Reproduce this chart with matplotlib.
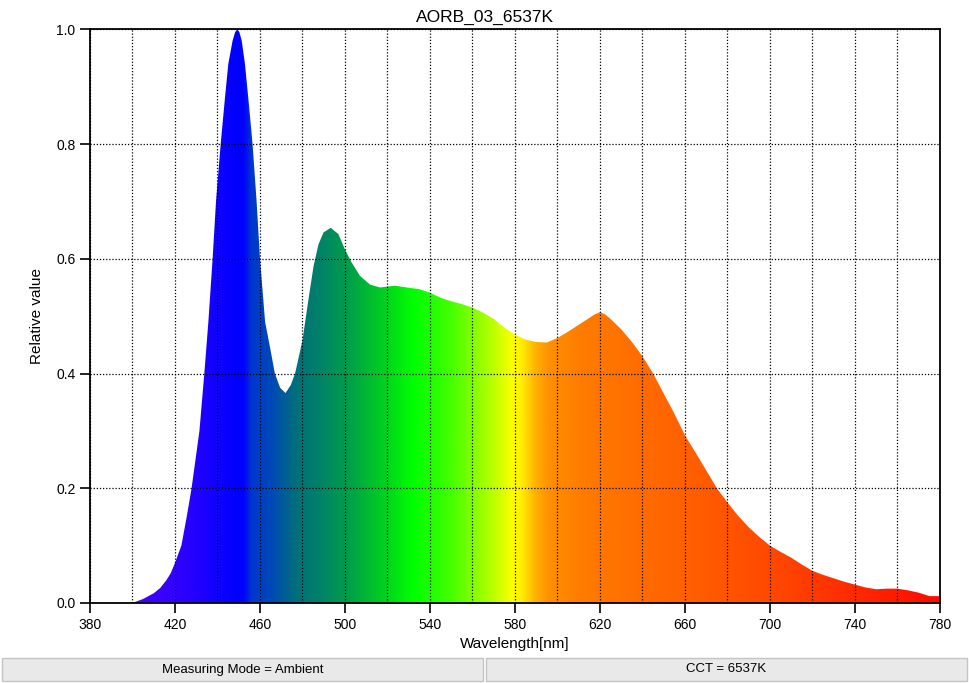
import numpy as np
import matplotlib; matplotlib.use("Agg"); import matplotlib.pyplot as plt
from matplotlib.colors import LinearSegmentedColormap
from matplotlib.patches import Rectangle

plt.rcParams["font.family"] = ["Liberation Sans", "DejaVu Sans"]

# spectrum (nm, relative value); denser where it is steep
wl = [400, 405, 410, 413, 416, 418, 420, 423, 425.5, 427.8, 431.5, 433.8, 435.7,
      437.7, 439.3, 441.5, 443.5, 445.1, 447.1, 448.3, 449.3, 450.3, 451.4,
      452.9, 454.5, 456.5, 458.4, 460, 462.4, 465, 467, 469.5, 472, 474.5, 476.5,
      480, 482.8, 485.2, 487.5, 489.9, 493.3, 496.9, 500, 503.2, 507.1, 511.8,
      516.5, 523.6, 529, 535, 540, 545, 550, 555, 560, 565, 570, 575, 580, 585,
      590, 595, 600, 605, 610, 615, 617.5, 620, 622.5, 625, 630, 635, 640, 645,
      650, 655, 660, 665, 670, 675, 680, 685, 690, 695, 700, 705, 710, 715, 720,
      725, 730, 735, 740, 745, 750, 755, 760, 765, 770, 775, 780]
rel = [0.000, 0.007, 0.017, 0.026, 0.040, 0.052, 0.070, 0.100, 0.150, 0.200,
       0.300, 0.400, 0.490, 0.600, 0.700, 0.800, 0.880, 0.940, 0.980, 0.995,
       1.000, 0.995, 0.980, 0.940, 0.880, 0.800, 0.700, 0.600, 0.490, 0.440,
       0.400, 0.375, 0.366, 0.380, 0.400, 0.458, 0.529, 0.587, 0.625, 0.646,
       0.654, 0.643, 0.616, 0.593, 0.570, 0.555, 0.550, 0.553, 0.550, 0.547,
       0.541, 0.532, 0.526, 0.521, 0.515, 0.506, 0.495, 0.480, 0.468, 0.459,
       0.455, 0.454, 0.462, 0.473, 0.485, 0.497, 0.503, 0.507, 0.503, 0.495,
       0.477, 0.455, 0.430, 0.400, 0.365, 0.330, 0.292, 0.262, 0.231, 0.200,
       0.175, 0.152, 0.132, 0.115, 0.100, 0.089, 0.079, 0.067, 0.056, 0.049,
       0.043, 0.037, 0.032, 0.027, 0.024, 0.025, 0.025, 0.022, 0.018, 0.012,
       0.012]

# fill colour by wavelength
col_wl = [380, 400, 420, 440, 449, 452, 456, 465, 477, 487, 502, 518, 532, 549,
          568, 579, 583, 590, 596, 611, 661, 708, 739, 780]
col_hex = ["#4400ff", "#4400ff", "#3300ff", "#1000ff", "#0000ff", "#0000ff",
           "#0038cc", "#0048b8", "#00707a", "#00806a", "#00a048", "#00d020",
           "#00ff00", "#40ff00", "#b0ff00", "#ffff00", "#ffee00", "#ffb000",
           "#ff9000", "#ff7c00", "#ff6000", "#ff4400", "#ff2a00", "#ff0a00"]

title = "AORB_03_6537K"
status = ["Measuring Mode = Ambient", "CCT = 6537K"]

fig = plt.figure(figsize=(9.7, 6.83), dpi=100)
ax = fig.add_axes([90 / 970, 1 - 603 / 683, 850 / 970, (603 - 29.3) / 683])

cmap = LinearSegmentedColormap.from_list(
    "spec", [((w - 380) / 400, c) for w, c in zip(col_wl, col_hex)], N=1024)
grad = np.linspace(0, 1, 1600)[None, :]
im = ax.imshow(grad, cmap=cmap, extent=[380, 780, 0, 1], aspect="auto",
               origin="lower", interpolation="bilinear", zorder=2)
poly = ax.fill_between(wl, rel, 0, color="none", lw=0, zorder=1)
im.set_clip_path(poly.get_paths()[0], transform=ax.transData)

ax.set_xlim(380, 780); ax.set_ylim(0, 1)
ax.set_xticks(np.arange(380, 781, 40))
ax.set_xticks(np.arange(380, 781, 20), minor=True)
ax.set_yticks(np.arange(0, 1.01, 0.2))
ax.yaxis.set_major_formatter(plt.FormatStrFormatter("%.1f"))
ax.grid(which="both", color="black", ls=(0, (1, 1.5)), lw=0.9, zorder=3)
ax.set_axisbelow(False)
ax.tick_params(which="major", length=7, width=1.2, labelsize=10, color="black")
ax.tick_params(which="minor", length=0)
for s in ax.spines.values():
    s.set_linewidth(1.3); s.set_zorder(4)
ax.set_xlabel("Wavelength[nm]", fontsize=11)
ax.set_ylabel("Relative value", fontsize=11, labelpad=9)
fig.text(0.5, 1 - 17 / 683, title, ha="center", va="center", fontsize=12.5)

# status bar
for i, txt in enumerate(status):
    x0 = 2 / 970 if i == 0 else 486 / 970
    fig.patches.append(Rectangle((x0, 2 / 683), 481 / 970, 23 / 683,
                                 transform=fig.transFigure, fc="#e9e9e9",
                                 ec="#c4c4c4", lw=1))
    fig.text(x0 + 240.5 / 970, 13.5 / 683, txt, ha="center", va="center",
             fontsize=9.5)

fig.savefig("out.png", dpi=100)
